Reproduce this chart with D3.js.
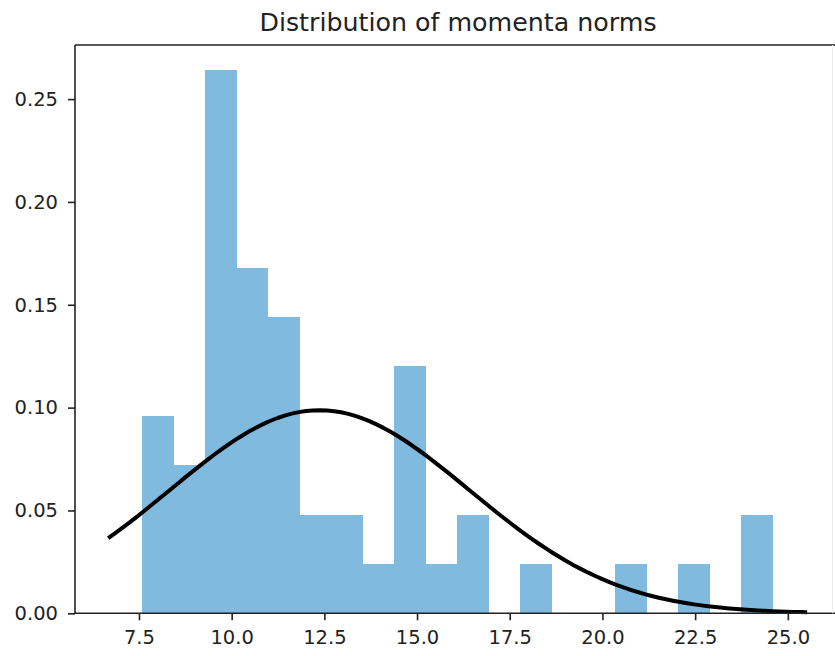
<!DOCTYPE html>
<html>
<head>
<meta charset="utf-8">
<script src="https://cdn.jsdelivr.net/npm/d3@7/dist/d3.min.js"></script>
<style>
  html, body { margin: 0; padding: 0; background: #fff; }
  svg { display: block; }
  text { font-family: "DejaVu Sans", sans-serif; fill: #222; }
</style>
</head>
<body>
<svg id="chart" width="835" height="656"></svg>
<script>
// ---- data ----
const title = "Distribution of momenta norms";
const binMin = 7.59;           // left edge of first bin
const binMax = 24.59;          // right edge of last bin
const binCounts = [4, 3, 11, 7, 6, 2, 2, 1, 5, 1, 2, 0, 1, 0, 0, 1, 0, 1, 0, 2];
const fitMean = 12.37;         // fitted normal distribution
const fitStd = 4.04;
const curveRange = [6.67, 25.52];  // x extent of the fitted curve
const xTicks = [7.5, 10.0, 12.5, 15.0, 17.5, 20.0, 22.5, 25.0];
const yTicks = [0.00, 0.05, 0.10, 0.15, 0.20, 0.25];

// ---- derived ----
const nBins = binCounts.length;
const binWidth = (binMax - binMin) / nBins;
const total = d3.sum(binCounts);
const bins = binCounts.map((c, i) => ({
  x0: binMin + i * binWidth,
  x1: binMin + (i + 1) * binWidth,
  density: c / (total * binWidth)
}));

const svg = d3.select("#chart");
const pLeft = 75, pRight = 839, pTop = 45, pBottom = 613.3;

const x = d3.scaleLinear().domain([5.775, 26.38]).range([pLeft, pRight]);
const y = d3.scaleLinear().domain([0, 0.2763]).range([pBottom, pTop]);

// bars
svg.append("g").attr("shape-rendering", "crispEdges").selectAll("rect")
  .data(bins.filter(b => b.density > 0))
  .join("rect")
  .attr("x", d => x(d.x0))
  .attr("width", d => x(d.x1) - x(d.x0))
  .attr("y", d => y(d.density))
  .attr("height", d => y(0) - y(d.density))
  .attr("fill", "#80bade");

// fitted normal curve
const pdf = v => Math.exp(-0.5 * ((v - fitMean) / fitStd) ** 2) / (fitStd * Math.sqrt(2 * Math.PI));
const curveX = d3.range(100).map(i => curveRange[0] + (curveRange[1] - curveRange[0]) * i / 99);
svg.append("path")
  .datum(curveX)
  .attr("fill", "none")
  .attr("stroke", "#000")
  .attr("stroke-width", 4)
  .attr("stroke-linejoin", "round")
  .attr("stroke-linecap", "butt")
  .attr("d", d3.line().x(v => x(v)).y(v => y(pdf(v))));

// axes
const xAxis = d3.axisBottom(x).tickValues(xTicks).tickFormat(d3.format(".1f")).tickSize(7).tickPadding(10);
const gx = svg.append("g").attr("transform", `translate(0,${pBottom})`).call(xAxis);
gx.select(".domain").remove();
gx.selectAll("line").attr("stroke", "#222").attr("stroke-width", 1.6);
gx.selectAll("text").attr("font-size", 19.5).attr("font-family", "DejaVu Sans").attr("fill", "#222");

const yAxis = d3.axisLeft(y).tickValues(yTicks).tickFormat(d3.format(".2f")).tickSize(7).tickPadding(10);
const gy = svg.append("g").attr("transform", `translate(${pLeft},0)`).call(yAxis);
gy.select(".domain").remove();
gy.selectAll("line").attr("stroke", "#222").attr("stroke-width", 1.6);
gy.selectAll("text").attr("font-size", 19.5).attr("font-family", "DejaVu Sans").attr("fill", "#222");

// spines
const sp = svg.append("g").attr("stroke", "#222").attr("stroke-width", 1.6).attr("fill", "none");
sp.append("line").attr("x1", pLeft).attr("x2", 835).attr("y1", pBottom).attr("y2", pBottom);
sp.append("line").attr("x1", pLeft).attr("x2", 835).attr("y1", pTop).attr("y2", pTop);
sp.append("line").attr("x1", pLeft).attr("x2", pLeft).attr("y1", pTop).attr("y2", pBottom);
svg.append("line").attr("x1", 832.5).attr("x2", 832.5).attr("y1", pTop).attr("y2", pBottom)
  .attr("stroke", "#ececec").attr("stroke-width", 1);

// title
svg.append("text")
  .attr("x", 458)
  .attr("y", 31)
  .attr("text-anchor", "middle")
  .attr("font-size", 25.3)
  .text(title);
</script>
</body>
</html>
